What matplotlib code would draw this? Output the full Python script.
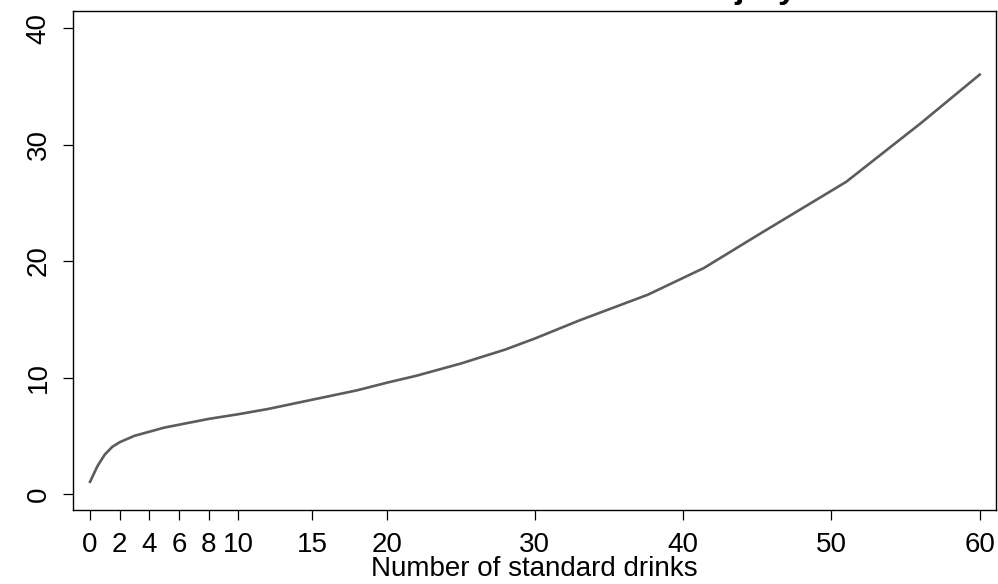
import matplotlib
matplotlib.use("Agg")
import matplotlib.pyplot as plt

plt.rcParams['font.family'] = ['Liberation Sans', 'DejaVu Sans']

# Data
drinks = [0, 0.5, 1, 1.5, 2, 3, 4, 5, 6, 8, 10, 12, 15, 18, 20, 22, 25, 28,
          30, 33, 37.6, 41.4, 45, 51, 56, 60]
risk = [1.05, 2.4, 3.4, 4.05, 4.45, 5.0, 5.35, 5.7, 5.95, 6.45, 6.85, 7.3,
        8.1, 8.9, 9.55, 10.15, 11.2, 12.4, 13.35, 14.9, 17.1, 19.4, 22.2,
        26.8, 31.8, 36.0]
x_ticks = [0, 2, 4, 6, 8, 10, 15, 20, 30, 40, 50, 60]
y_ticks = [0, 10, 20, 30, 40]
title = "Relative risk of injury"
x_label = "Number of standard drinks"

W, H = 998, 584
fig = plt.figure(figsize=(W / 100, H / 100), dpi=100)
ax = fig.add_axes([73 / W, (H - 510) / H, (996 - 73) / W, (510 - 11) / H])

ax.plot(drinks, risk, color='#5c5c5c', lw=1.9, solid_joinstyle='round')

ax.set_xlim(-1.15, 61.1)
ax.set_ylim(-1.37, 41.46)
ax.set_xticks(x_ticks)
ax.set_xticklabels([str(t) for t in x_ticks])
ax.set_yticks(y_ticks)
ax.set_yticklabels([str(t) for t in y_ticks], rotation=90, va='center')

ax.tick_params(axis='both', direction='out', length=7.5, width=0.9,
               labelsize=20, pad=8, colors='black')
for s in ax.spines.values():
    s.set_linewidth(1.0)
    s.set_color('black')

ax.set_xlabel(x_label, fontsize=20, labelpad=-1)

# Title almost entirely above the canvas, only descenders visible
fig.text(797 / W, (H + 2) / H, title, ha='right', va='baseline',
         fontsize=24, fontweight='bold')

fig.savefig('out.png', dpi=100)
